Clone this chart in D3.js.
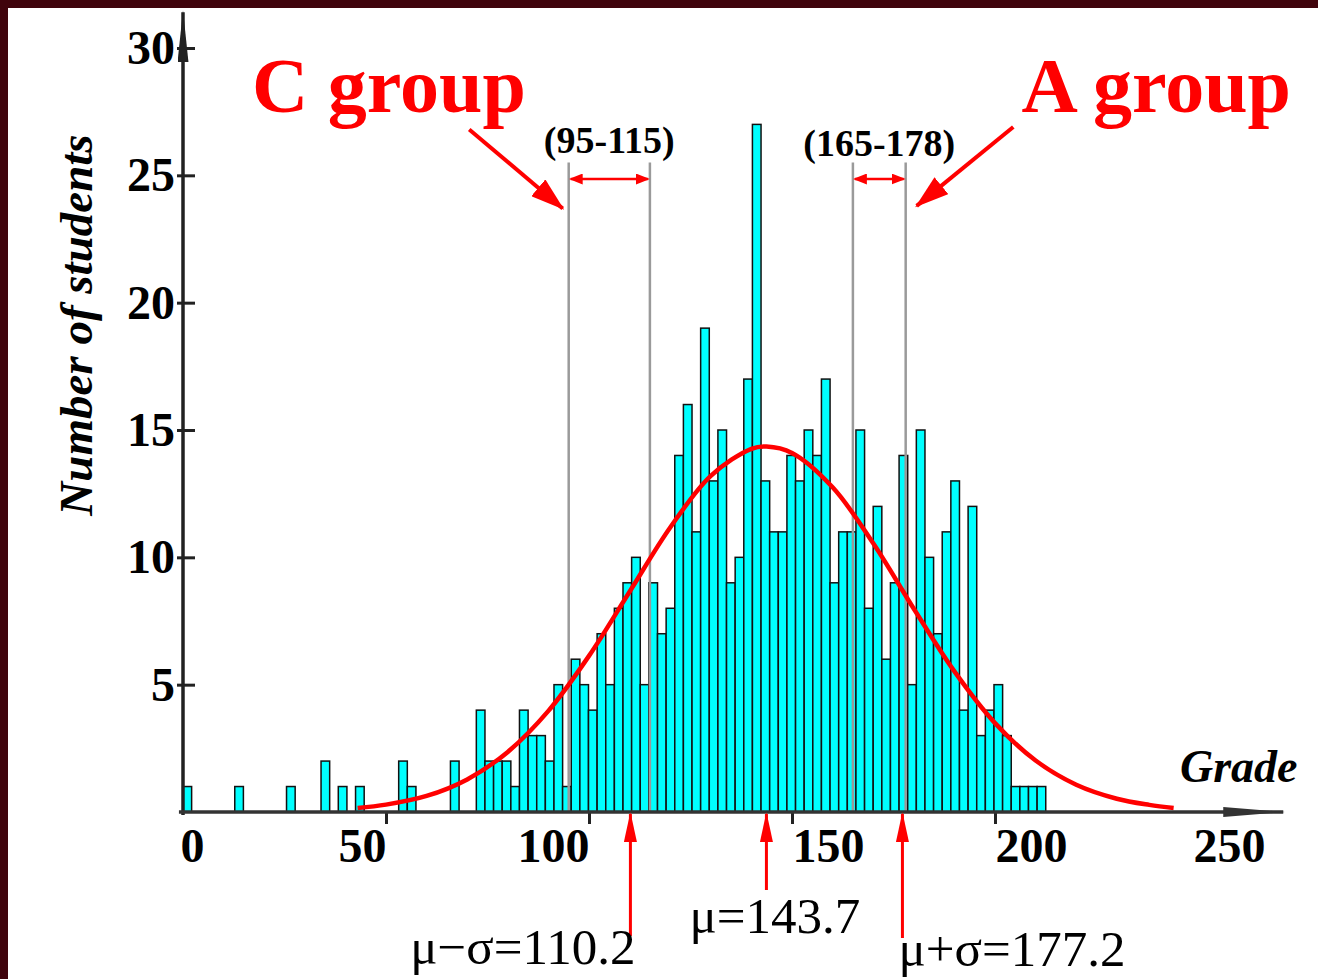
<!DOCTYPE html>
<meta charset="utf-8">
<script src="https://cdn.jsdelivr.net/npm/d3@7"></script>
<style>
  body { margin: 0; background: #40040c; }
  .bar { fill: #00ffff; stroke: #111; stroke-width: 1.5; }
  .fit { fill: none; stroke: #ff0000; stroke-width: 4.5; }
  .bound { stroke: #9a9a9a; stroke-width: 2.5; }
  text { font-family: "Liberation Serif", "Times New Roman", serif; }
</style>
<body>
<script>

// histogram: 100 bins starting at grade 0, each one binWidth wide
var binWidth = 2.125;
var counts = [
  1, 0, 0, 0, 0, 0, 1, 0, 0, 0,
  0, 0, 1, 0, 0, 0, 2, 0, 1, 0,
  1, 0, 0, 0, 0, 2, 1, 0, 0, 0,
  0, 2, 0, 0, 4, 2, 2, 2, 1, 4,
  3, 3, 2, 5, 1, 6, 5, 4, 7, 5,
  8, 9, 10, 5, 9, 7, 8, 14, 16, 11,
  19, 13, 15, 9, 10, 17, 27, 13, 11, 11,
  14, 13, 15, 14, 17, 9, 11, 11, 15, 8,
  12, 6, 9, 14, 5, 15, 10, 7, 11, 13,
  4, 12, 3, 4, 5, 3, 1, 1, 1, 1
];

// fitted normal curve
var curveGrades = [43, 50, 60, 70, 80, 90, 100, 110, 120, 130, 140, 143.7, 150, 160, 170, 180, 190, 200, 210, 220, 230, 238, 244];
var curveCounts = [0.16, 0.29, 0.63, 1.28, 2.36, 3.97, 6.13, 8.65, 11.17, 13.2, 14.26, 14.35, 14.1, 12.75, 10.55, 7.98, 5.52, 3.49, 2.02, 1.07, 0.52, 0.28, 0.16];

var xTicks = [0, 50, 100, 150, 200, 250];
var yTicks = [5, 10, 15, 20, 25, 30];

var groupBounds = [95, 115, 165, 178];
var groupRanges = [
  {label: "(95-115)", from: 95, to: 115},
  {label: "(165-178)", from: 165, to: 178}
];
var statLabels = ["μ−σ=110.2", "μ=143.7", "μ+σ=177.2"];
var statValues = [110.2, 143.7, 177.2];

var W = 1318, H = 979;
var serif = '"Liberation Serif", "Times New Roman", serif';

var svg = d3.select("body").append("svg")
    .attr("width", W)
    .attr("height", H)
    .style("display", "block");

// dark frame + white plot page
svg.append("rect").attr("width", W).attr("height", H).attr("fill", "#40040c");
svg.append("rect").attr("x", 8).attr("y", 8).attr("width", W - 8).attr("height", H - 8).attr("fill", "#fff");

var x = d3.scaleLinear().domain([0, 250]).range([183, 1198]);
var y = d3.scaleLinear().domain([0, 30]).range([812, 48]);

// arrow heads
var defs = svg.append("defs");
function marker(id, len, wid, color, orient) {
    defs.append("marker")
        .attr("id", id)
        .attr("markerUnits", "userSpaceOnUse")
        .attr("viewBox", `0 0 ${len} ${wid}`)
        .attr("markerWidth", len)
        .attr("markerHeight", wid)
        .attr("refX", len - 2)
        .attr("refY", wid / 2)
        .attr("orient", orient || "auto")
      .append("path")
        .attr("d", `M0,0L${len},${wid / 2}L0,${wid}Z`)
        .attr("fill", color);
}
marker("headBig", 34, 22, "#ff0000");
marker("headUp", 30, 13, "#ff0000");
marker("headSmall", 14, 11, "#ff0000", "auto-start-reverse");
marker("axisY", 52, 11, "#222");
marker("axisX", 62, 10, "#333");

// bars
var bins = counts.map((c, i) => ({i: i, c: c})).filter(d => d.c > 0);
svg.append("g").selectAll("rect")
    .data(bins)
    .join("rect")
      .attr("class", "bar")
      .attr("x", d => x(d.i * binWidth))
      .attr("width", d => x((d.i + 1) * binWidth) - x(d.i * binWidth))
      .attr("y", d => y(d.c))
      .attr("height", d => y(0) - y(d.c));

// group boundary lines
svg.append("g").selectAll("line")
    .data(groupBounds)
    .join("line")
      .attr("class", "bound")
      .attr("x1", d => x(d)).attr("x2", d => x(d))
      .attr("y1", y(25.5)).attr("y2", y(0));

// fitted curve
var line = d3.line()
    .x((d, i) => x(curveGrades[i]))
    .y(d => y(d))
    .curve(d3.curveCatmullRom);
svg.append("path").attr("class", "fit").attr("d", line(curveCounts));

// y axis
var yAxisG = svg.append("g")
    .attr("transform", `translate(${x(0)},0)`)
    .call(d3.axisLeft(y).tickValues(yTicks).tickSize(6));
yAxisG.select(".domain").remove();
yAxisG.selectAll(".tick line").attr("x1", 12).attr("x2", -6).attr("stroke", "#222").attr("stroke-width", 3);
yAxisG.selectAll(".tick text")
    .attr("x", -8)
    .attr("font-family", serif)
    .attr("font-size", 48)
    .attr("font-weight", "bold")
    .attr("fill", "#000");

// x axis
var xAxisG = svg.append("g")
    .attr("transform", `translate(0,${y(0)})`)
    .call(d3.axisBottom(x).tickValues(xTicks).tickSize(12).tickPadding(4));
xAxisG.select(".domain").remove();
xAxisG.selectAll(".tick line")
    .attr("stroke", "#222").attr("stroke-width", 3)
    .attr("display", d => (d === 0 || d === 250) ? "none" : null);
xAxisG.selectAll(".tick text")
    .attr("font-family", serif)
    .attr("font-size", 48)
    .attr("font-weight", "bold")
    .attr("fill", "#000")
    .attr("text-anchor", d => (d === 50 || d === 100) ? "end" : "start")
    .attr("x", d => d === 0 ? -3 : d === 250 ? -5 : 0);

// axis lines with arrows
svg.append("line")
    .attr("x1", x(0)).attr("x2", x(0))
    .attr("y1", y(0) + 3).attr("y2", y(31.4))
    .attr("stroke", "#222").attr("stroke-width", 3.5)
    .attr("marker-end", "url(#axisY)");
svg.append("line")
    .attr("x1", x(-1)).attr("x2", x(271))
    .attr("y1", y(0)).attr("y2", y(0))
    .attr("stroke", "#333").attr("stroke-width", 3.5)
    .attr("marker-end", "url(#axisX)");

// axis titles
svg.append("text")
    .attr("transform", "translate(92,325) rotate(-90)")
    .attr("text-anchor", "middle")
    .attr("font-size", 47)
    .attr("font-weight", "bold")
    .attr("font-style", "italic")
    .text("Number of students");

svg.append("text")
    .attr("x", 1180).attr("y", 782)
    .attr("font-size", 46)
    .attr("font-weight", "bold")
    .attr("font-style", "italic")
    .text("Grade");

// range labels with double arrows
var rangeG = svg.append("g").selectAll("g")
    .data(groupRanges)
    .join("g");
rangeG.append("text")
    .attr("x", d => (x(d.from) + x(d.to)) / 2)
    .attr("y", (d, i) => i === 0 ? 153 : 156)
    .attr("text-anchor", "middle")
    .attr("font-size", 38)
    .attr("font-weight", "bold")
    .text(d => d.label);
rangeG.append("line")
    .attr("x1", d => x(d.from) + 2).attr("x2", d => x(d.to) - 2)
    .attr("y1", 179).attr("y2", 179)
    .attr("stroke", "#ff0000").attr("stroke-width", 2.5)
    .attr("marker-start", "url(#headSmall)")
    .attr("marker-end", "url(#headSmall)");

// group titles and pointers
svg.append("text")
    .attr("x", 252).attr("y", 112)
    .attr("font-size", 78).attr("font-weight", "bold")
    .attr("fill", "#ff0000")
    .text("C group");
svg.append("text")
    .attr("x", 1291).attr("y", 112)
    .attr("text-anchor", "end")
    .attr("font-size", 78).attr("font-weight", "bold")
    .attr("fill", "#ff0000")
    .text("A group");

svg.append("line")
    .attr("x1", x(70.5)).attr("y1", y(26.8))
    .attr("x2", x(95) - 6).attr("y2", y(23.7))
    .attr("stroke", "#ff0000").attr("stroke-width", 4)
    .attr("marker-end", "url(#headBig)");
svg.append("line")
    .attr("x1", x(204.5)).attr("y1", y(26.9))
    .attr("x2", x(178) + 11).attr("y2", y(23.8))
    .attr("stroke", "#ff0000").attr("stroke-width", 4)
    .attr("marker-end", "url(#headBig)");

// mean / sigma arrows under the axis
var statBottom = [936, 890, 938];
var statText = [
  {anchor: "end", dx: 5, y: 964},
  {anchor: "start", dx: -77, y: 933},
  {anchor: "start", dx: -4, y: 966}
];
var statG = svg.append("g").selectAll("g")
    .data(statValues)
    .join("g");
statG.append("line")
    .attr("x1", d => x(d)).attr("x2", d => x(d))
    .attr("y1", (d, i) => statBottom[i]).attr("y2", y(0) + 2)
    .attr("stroke", "#ff0000").attr("stroke-width", 3)
    .attr("marker-end", "url(#headUp)");
statG.append("text")
    .attr("x", (d, i) => x(d) + statText[i].dx)
    .attr("y", (d, i) => statText[i].y)
    .attr("text-anchor", (d, i) => statText[i].anchor)
    .attr("font-size", 51)
    .text((d, i) => statLabels[i]);

</script>
</body>
</html>
